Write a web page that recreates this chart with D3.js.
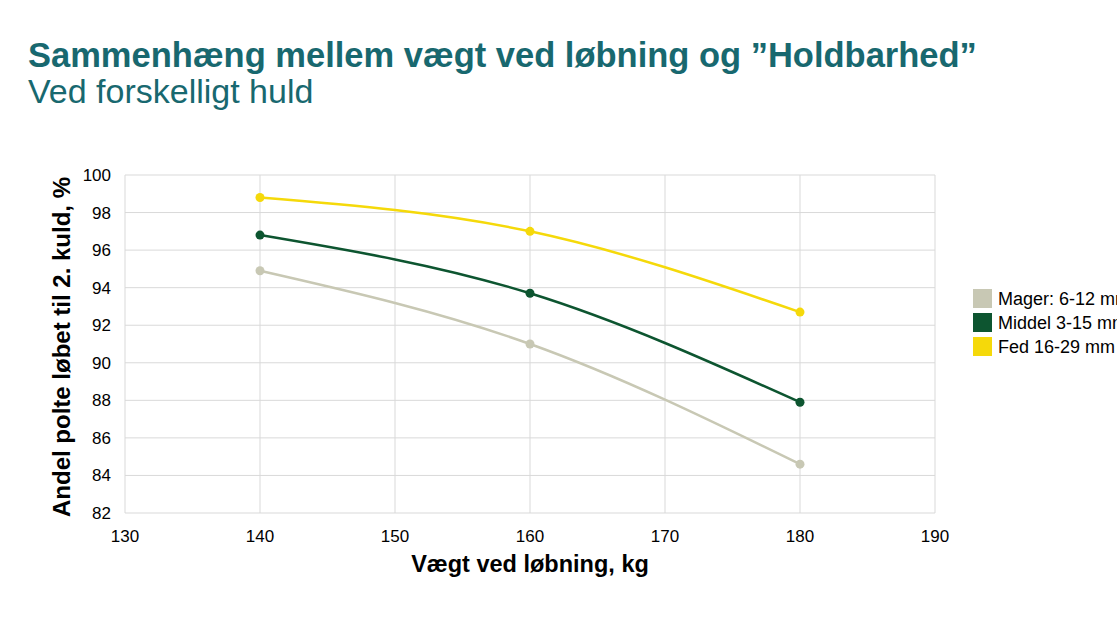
<!DOCTYPE html><html><head><meta charset="utf-8"><script src="https://cdn.jsdelivr.net/npm/d3@7"></script>
<style>body{margin:0;background:#fff;overflow:hidden}svg{font-family:Arial,"Liberation Sans",sans-serif}</style></head><body><svg width="1117" height="628"></svg><script>
const xVals=[140,160,180];
const seriesNames=["Mager: 6-12 mm","Middel 3-15 mm","Fed 16-29 mm"];
const mager=[94.9,91.0,84.6];
const middel=[96.8,93.7,87.9];
const fed=[98.8,97.0,92.7];
const colors=["#c8c8b4","#0d5530","#f5d90a"];
const xTicks=[130,140,150,160,170,180,190];
const yTicks=[82,84,86,88,90,92,94,96,98,100];
const svg=d3.select("svg");
const x=d3.scaleLinear().domain([130,190]).range([125,935]);
const y=d3.scaleLinear().domain([82,100]).range([513,175]);
svg.append("text").attr("x",28).attr("y",67).attr("font-size",34.5).attr("font-weight","bold").attr("fill","#18686f").text("Sammenhæng mellem vægt ved løbning og ”Holdbarhed”");
svg.append("text").attr("x",28).attr("y",103).attr("font-size",34).attr("fill","#18686f").text("Ved forskelligt huld");
const g=svg.append("g");
g.selectAll(".gx").data(xTicks).join("line").attr("x1",d=>x(d)).attr("x2",d=>x(d)).attr("y1",175).attr("y2",513).attr("stroke","#d9d9d9");
g.selectAll(".gy").data(yTicks).join("line").attr("y1",d=>y(d)).attr("y2",d=>y(d)).attr("x1",125).attr("x2",935).attr("stroke","#d9d9d9");
g.selectAll(".xl").data(xTicks).join("text").attr("x",d=>x(d)).attr("y",542).attr("text-anchor","middle").attr("font-size",17).text(d=>d);
g.selectAll(".yl").data(yTicks).join("text").attr("x",111).attr("y",d=>y(d)+6).attr("text-anchor","end").attr("font-size",17).text(d=>d);
svg.append("text").attr("x",530).attr("y",572).attr("text-anchor","middle").attr("font-size",23.5).attr("font-weight","bold").text("Vægt ved løbning, kg");
svg.append("text").attr("transform","translate(70,347) rotate(-90)").attr("text-anchor","middle").attr("font-size",24).attr("font-weight","bold").text("Andel polte løbet til 2. kuld, %");
const data=[mager,middel,fed];
const line=d3.line().x((d,i)=>x(xVals[i])).y(d=>y(d)).curve(d3.curveMonotoneX);
data.forEach((s,k)=>{
 svg.append("path").attr("d",line(s)).attr("fill","none").attr("stroke",colors[k]).attr("stroke-width",2.5);
 svg.selectAll(null).data(s).join("circle").attr("cx",(d,i)=>x(xVals[i])).attr("cy",d=>y(d)).attr("r",4.5).attr("fill",colors[k]);
});
seriesNames.forEach((n,k)=>{
 svg.append("rect").attr("x",973).attr("y",289+k*24).attr("width",19).attr("height",19).attr("fill",colors[k]);
 svg.append("text").attr("x",998).attr("y",305+k*24).attr("font-size",18).text(n);
});
</script></body></html>
